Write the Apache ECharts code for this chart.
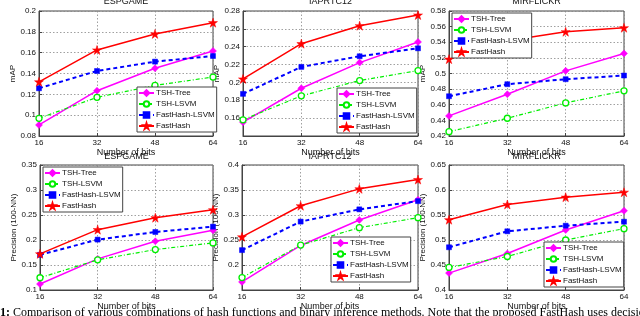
<!DOCTYPE html>
<html><head><meta charset="utf-8">
<script src="https://cdn.jsdelivr.net/npm/echarts@6/dist/echarts.min.js"></script>
<style>html,body{margin:0;padding:0;background:#fff;}#c{width:640px;height:316px;}</style>
</head><body><div id="c"></div>
<script>
const bits = [16, 32, 48, 64];
const seriesNames = ['TSH-Tree', 'TSH-LSVM', 'FastHash-LSVM', 'FastHash'];
const datasetTitles = ['ESPGAME', 'IAPRTC12', 'MIRFLICKR', 'ESPGAME', 'IAPRTC12', 'MIRFLICKR'];
const yAxisNames = ['mAP', 'mAP', 'mAP', 'Precision (100-NN)', 'Precision (100-NN)', 'Precision (100-NN)'];
const xAxisName = 'Number of bits';
const yMins = [0.08, 0.14, 0.42, 0.10, 0.15, 0.40];
const yMaxs = [0.20, 0.28, 0.58, 0.35, 0.40, 0.65];
const yIntervals = [0.02, 0.02, 0.02, 0.05, 0.05, 0.05];
const captionText = 'Comparison of various combinations of hash functions and binary inference methods. Note that the proposed FastHash uses decision trees';

// mAP (top row)
const espMapTree   = [0.0906, 0.1235, 0.1450, 0.1616];
const espMapLsvm   = [0.0970, 0.1171, 0.1286, 0.1366];
const espMapFhLsvm = [0.1258, 0.1424, 0.1514, 0.1568];
const espMapFh     = [0.1320, 0.1626, 0.1780, 0.1888];

const iapMapTree   = [0.1555, 0.1935, 0.2222, 0.2453];
const iapMapLsvm   = [0.1581, 0.1850, 0.2021, 0.2133];
const iapMapFhLsvm = [0.1872, 0.2174, 0.2293, 0.2382];
const iapMapFh     = [0.2039, 0.2434, 0.2635, 0.2755];

const mirMapTree   = [0.4457, 0.4735, 0.5034, 0.5257];
const mirMapLsvm   = [0.4256, 0.4427, 0.4624, 0.4778];
const mirMapFhLsvm = [0.4709, 0.4863, 0.4927, 0.4974];
const mirMapFh     = [0.5184, 0.5420, 0.5535, 0.5586];

// Precision (bottom row)
const espPrTree   = [0.1120, 0.1623, 0.1975, 0.2194];
const espPrLsvm   = [0.1245, 0.1603, 0.1809, 0.1942];
const espPrFhLsvm = [0.1703, 0.2008, 0.2160, 0.2267];
const espPrFh     = [0.1723, 0.2207, 0.2446, 0.2605];

const iapPrTree   = [0.1662, 0.2391, 0.2901, 0.3305];
const iapPrLsvm   = [0.1748, 0.2398, 0.2747, 0.2947];
const iapPrFhLsvm = [0.2298, 0.2868, 0.3113, 0.3278];
const iapPrFh     = [0.2563, 0.3185, 0.3523, 0.3709];

const mirPrTree   = [0.4338, 0.4729, 0.5200, 0.5585];
const mirPrLsvm   = [0.4451, 0.4670, 0.5000, 0.5227];
const mirPrFhLsvm = [0.4855, 0.5174, 0.5286, 0.5366];
const mirPrFh     = [0.5406, 0.5711, 0.5857, 0.5956];

const plotData = [
  [espMapTree, espMapLsvm, espMapFhLsvm, espMapFh],
  [iapMapTree, iapMapLsvm, iapMapFhLsvm, iapMapFh],
  [mirMapTree, mirMapLsvm, mirMapFhLsvm, mirMapFh],
  [espPrTree, espPrLsvm, espPrFhLsvm, espPrFh],
  [iapPrTree, iapPrLsvm, iapPrFhLsvm, iapPrFh],
  [mirPrTree, mirPrLsvm, mirPrFhLsvm, mirPrFh]
];

// layout
const grids = [
  {left: 39, top: 11, width: 174, height: 125},
  {left: 243, top: 11, width: 175, height: 125},
  {left: 449, top: 11, width: 175, height: 125},
  {left: 40, top: 165, width: 173, height: 125},
  {left: 242, top: 165, width: 176, height: 125},
  {left: 449, top: 165, width: 175, height: 125}
];
const legendPos = [
  {left: 137, top: 87}, {left: 337, top: 88}, {left: 452, top: 13},
  {left: 43, top: 167}, {left: 331, top: 237}, {left: 544, top: 242}
];
const yNameGaps = [21, 20, 19, 20, 17, 22];

const STAR = 'path://M50 0L61.2 34.5L97.6 34.5L68.2 55.9L79.4 90.5L50 69.1L20.6 90.5L31.8 55.9L2.4 34.5L38.8 34.5Z';
const styles = [
  {color: '#ff00ff', symbol: 'diamond', symbolSize: 7, line: {width: 1.5, type: 'solid'}, fill: '#ff00ff'},
  {color: '#00ee00', symbol: 'circle', symbolSize: 6, line: {width: 1.2, type: [4, 2, 1, 2]}, fill: '#ffffff'},
  {color: '#0000ff', symbol: 'rect', symbolSize: 5, line: {width: 2, type: [4, 3]}, fill: '#0000ff'},
  {color: '#ff0000', symbol: STAR, symbolSize: 9, line: {width: 1.5, type: 'solid'}, fill: '#ff0000'}
];

const FONT = 'Liberation Sans';
const frame = '#444';

const option = {
  animation: false,
  backgroundColor: '#fff',
  grid: grids.map(g => Object.assign({show: true, borderColor: frame, borderWidth: 1, backgroundColor: 'transparent', containLabel: false}, g)),
  title: grids.map((g, i) => ({
    text: datasetTitles[i], left: g.left + g.width / 2, top: i < 3 ? -3 : 152, textAlign: 'center', padding: 0,
    textStyle: {fontFamily: FONT, fontSize: 9, fontWeight: 'normal', color: '#111'}
  })),
  legend: legendPos.map((p, i) => ({
    left: p.left, top: p.top, orient: 'vertical', data: seriesNames, z: 20,
    backgroundColor: '#fff', borderColor: frame, borderWidth: 1, padding: [1, 2, 1, 1],
    itemGap: 1, itemWidth: 15, itemHeight: 7, selectedMode: false,
    textStyle: {fontFamily: FONT, fontSize: 8, color: '#111', lineHeight: 10, padding: [0, 0, 0, -3]}
  })),
  xAxis: grids.map((g, i) => ({
    gridIndex: i, type: 'value', min: 16, max: 64, interval: 16,
    name: xAxisName, nameLocation: 'middle', nameGap: 11,
    nameTextStyle: {fontFamily: FONT, fontSize: 9, color: '#111'},
    axisLine: {show: true, lineStyle: {color: frame, width: 1}},
    axisTick: {show: true, inside: true, length: 3, lineStyle: {color: frame}},
    axisLabel: {fontFamily: FONT, fontSize: 8, color: '#111', margin: 3},
    splitLine: {show: true, lineStyle: {color: '#888', width: 0.8, type: [1.5, 2]}}
  })),
  yAxis: grids.map((g, i) => ({
    gridIndex: i, type: 'value', min: yMins[i], max: yMaxs[i], interval: yIntervals[i],
    name: yAxisNames[i], nameLocation: 'middle', nameGap: yNameGaps[i],
    nameTextStyle: {fontFamily: FONT, fontSize: 8, color: '#111'},
    axisLine: {show: true, lineStyle: {color: frame, width: 1}},
    axisTick: {show: true, inside: true, length: 3, lineStyle: {color: frame}},
    axisLabel: {fontFamily: FONT, fontSize: 8, color: '#111', margin: 3, showMinLabel: !(i === 1 || i === 4)},
    splitLine: {show: true, lineStyle: {color: '#888', width: 0.8, type: [1.5, 2]}}
  })),
  graphic: [{
    type: 'text', left: 0, top: 307,
    style: {
      text: '{b|1:} ' + captionText,
      rich: {b: {fontWeight: 'bold', fontFamily: 'Liberation Serif', fontSize: 12, fill: '#000'}},
      fontFamily: 'Liberation Serif', fontSize: 12, fill: '#000'
    }
  }],
  series: []
};

plotData.forEach((arr, p) => {
  arr.forEach((vals, s) => {
    const st = styles[s];
    option.series.push({
      type: 'line', name: seriesNames[s], xAxisIndex: p, yAxisIndex: p,
      data: bits.map((b, k) => [b, vals[k]]),
      symbol: st.symbol, symbolSize: st.symbolSize, showSymbol: true,
      lineStyle: {color: st.color, width: st.line.width, type: st.line.type},
      itemStyle: {color: st.fill, borderColor: st.color, borderWidth: s === 1 ? 1.3 : 0.5},
      z: 2, zlevel: 0
    });
  });
});

const chart = echarts.init(document.getElementById('c'), null, {renderer: 'canvas'});
chart.setOption(option);
</script></body></html>
